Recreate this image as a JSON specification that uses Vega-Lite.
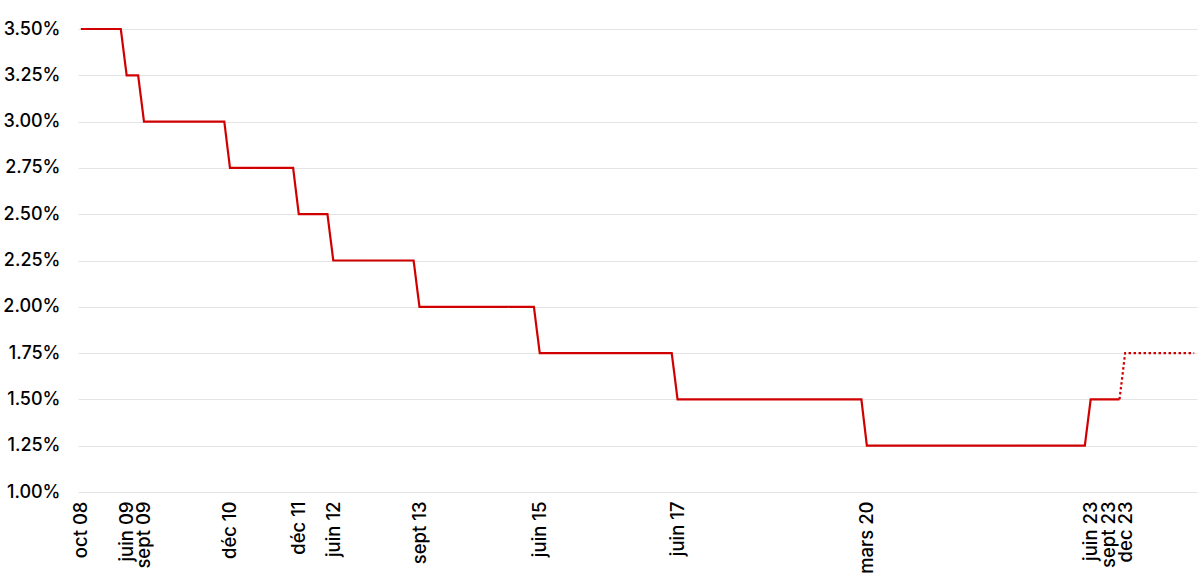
{
  "$schema": "https://vega.github.io/schema/vega-lite/v6.json",
  "autosize": {"type": "none"},
  "width": 1119,
  "height": 463,
  "padding": {"left": 78, "top": 29, "right": 3, "bottom": 86},
  "background": "white",
  "config": {
    "view": {"stroke": null},
    "font": "Inter"
  },
  "data": {
    "values": [
      {"date": "2008-10-01", "rate": 3.5, "serie": "actuel"},
      {"date": "2009-05-01", "rate": 3.5, "serie": "actuel"},
      {"date": "2009-06-01", "rate": 3.25, "serie": "actuel"},
      {"date": "2009-08-01", "rate": 3.25, "serie": "actuel"},
      {"date": "2009-09-01", "rate": 3.0, "serie": "actuel"},
      {"date": "2010-11-01", "rate": 3.0, "serie": "actuel"},
      {"date": "2010-12-01", "rate": 2.75, "serie": "actuel"},
      {"date": "2011-11-01", "rate": 2.75, "serie": "actuel"},
      {"date": "2011-12-01", "rate": 2.5, "serie": "actuel"},
      {"date": "2012-05-01", "rate": 2.5, "serie": "actuel"},
      {"date": "2012-06-01", "rate": 2.25, "serie": "actuel"},
      {"date": "2013-08-01", "rate": 2.25, "serie": "actuel"},
      {"date": "2013-09-01", "rate": 2.0, "serie": "actuel"},
      {"date": "2015-05-01", "rate": 2.0, "serie": "actuel"},
      {"date": "2015-06-01", "rate": 1.75, "serie": "actuel"},
      {"date": "2017-05-01", "rate": 1.75, "serie": "actuel"},
      {"date": "2017-06-01", "rate": 1.5, "serie": "actuel"},
      {"date": "2020-02-01", "rate": 1.5, "serie": "actuel"},
      {"date": "2020-03-01", "rate": 1.25, "serie": "actuel"},
      {"date": "2023-05-01", "rate": 1.25, "serie": "actuel"},
      {"date": "2023-06-01", "rate": 1.5, "serie": "actuel"},
      {"date": "2023-11-01", "rate": 1.5, "serie": "actuel"},
      {"date": "2023-11-01", "rate": 1.5, "serie": "prevision"},
      {"date": "2023-12-01", "rate": 1.75, "serie": "prevision"},
      {"date": "2024-12-01", "rate": 1.75, "serie": "prevision"}
    ]
  },
  "mark": {"type": "line", "color": "#d10000", "strokeWidth": 2.2, "interpolate": "linear"},
  "encoding": {
    "x": {
      "field": "date",
      "type": "temporal",
      "scale": {
        "type": "utc",
        "domain": [
          {"year": 2008, "month": 9, "date": 16, "utc": true},
          {"year": 2024, "month": 12, "date": 16, "utc": true}
        ]
      },
      "axis": {
        "title": null,
        "grid": false,
        "domain": false,
        "ticks": false,
        "tickSize": 0,
        "labelAngle": 270,
        "labelPadding": 9,
        "labelFontSize": 18.5,
        "labelFontWeight": 500,
        "labelColor": "#000000",
        "labelOverlap": false,
        "labelBound": false,
        "labelFlush": false,
        "values": [
          {"year": 2008, "month": 10, "date": 1, "utc": true},
          {"year": 2009, "month": 6, "date": 1, "utc": true},
          {"year": 2009, "month": 9, "date": 1, "utc": true},
          {"year": 2010, "month": 12, "date": 1, "utc": true},
          {"year": 2011, "month": 12, "date": 1, "utc": true},
          {"year": 2012, "month": 6, "date": 1, "utc": true},
          {"year": 2013, "month": 9, "date": 1, "utc": true},
          {"year": 2015, "month": 6, "date": 1, "utc": true},
          {"year": 2017, "month": 6, "date": 1, "utc": true},
          {"year": 2020, "month": 3, "date": 1, "utc": true},
          {"year": 2023, "month": 6, "date": 1, "utc": true},
          {"year": 2023, "month": 9, "date": 1, "utc": true},
          {"year": 2023, "month": 12, "date": 1, "utc": true}
        ],
        "labelExpr": "{'2008-10':'oct 08','2009-06':'juin 09','2009-09':'sept 09','2010-12':'déc 10','2011-12':'déc 11','2012-06':'juin 12','2013-09':'sept 13','2015-06':'juin 15','2017-06':'juin 17','2020-03':'mars 20','2023-06':'juin 23','2023-09':'sept 23','2023-12':'dec 23'}[utcFormat(datum.value, '%Y-%m')]"
      }
    },
    "y": {
      "field": "rate",
      "type": "quantitative",
      "scale": {"domain": [1, 3.5], "nice": false, "zero": false},
      "axis": {
        "title": null,
        "values": [1, 1.25, 1.5, 1.75, 2, 2.25, 2.5, 2.75, 3, 3.25, 3.5],
        "domain": false,
        "ticks": false,
        "tickSize": 0,
        "labelPadding": 18,
        "labelFontSize": 18,
        "labelFontWeight": 500,
        "labelColor": "#000000",
        "labelExpr": "format(datum.value, '.2f') + '%'",
        "gridColor": "#e4e4e4",
        "gridWidth": 1
      }
    },
    "strokeDash": {
      "field": "serie",
      "type": "nominal",
      "scale": {"domain": ["actuel", "prevision"], "range": [[1, 0], [2.5, 2.5]]},
      "legend": null
    }
  }
}
